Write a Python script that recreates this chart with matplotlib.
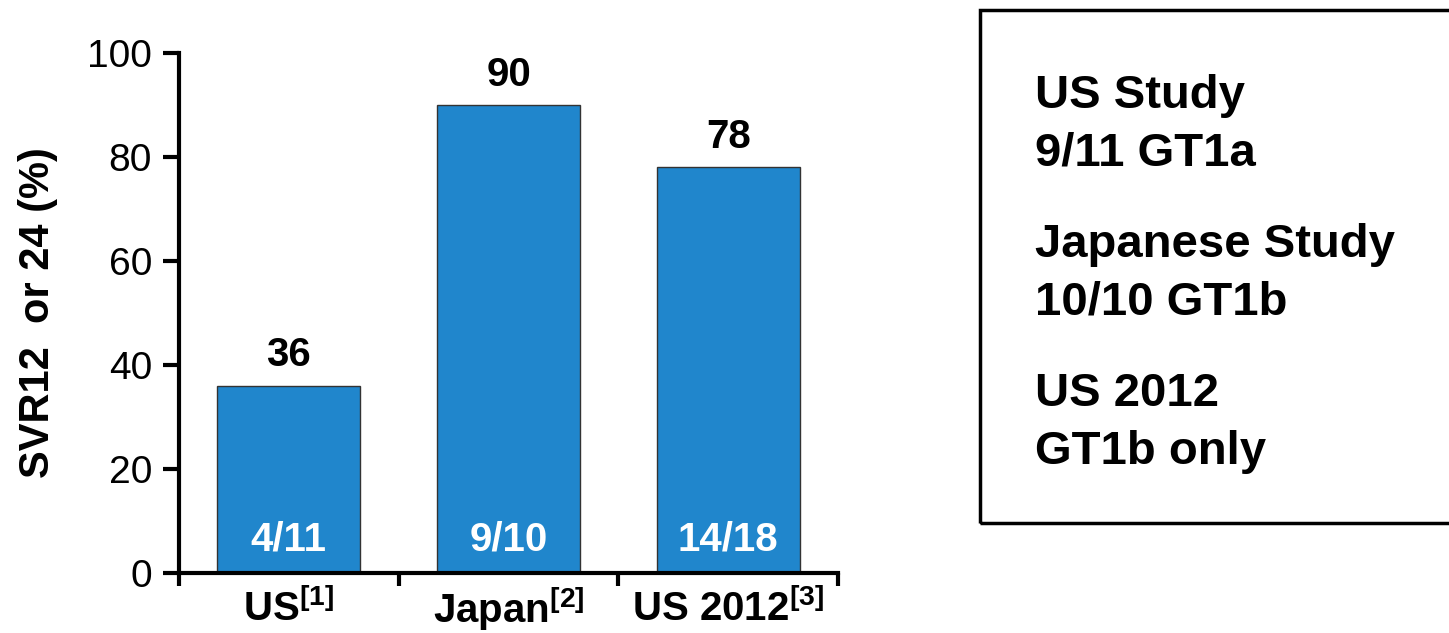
import matplotlib
matplotlib.use("Agg")
import matplotlib.pyplot as plt
from matplotlib.patches import Rectangle

plt.rcParams['font.family'] = ['Liberation Sans', 'DejaVu Sans']
plt.rcParams['mathtext.fontset'] = 'custom'
plt.rcParams['mathtext.rm'] = 'Liberation Sans'
plt.rcParams['mathtext.bf'] = 'Liberation Sans:bold'

# Data
categories = ["US", "Japan", "US 2012"]
refs = ["1", "2", "3"]
svr_pct = [36, 90, 78]
responders = ["4/11", "9/10", "14/18"]
yticks = [0, 20, 40, 60, 80, 100]
notes = [("US Study", "9/11 GT1a"),
         ("Japanese Study", "10/10 GT1b"),
         ("US 2012", "GT1b only")]

bar_color = "#2086cc"

fig = plt.figure(figsize=(14.49, 6.33), dpi=100)
W, H = 1449, 633
ax = fig.add_axes([179 / W, 1 - 573 / H, (838 - 179) / W, (573 - 53) / H])

x = list(range(len(categories)))
ax.bar(x, svr_pct, width=0.65, color=bar_color, edgecolor="#333333",
       linewidth=1.0, zorder=2)

ax.set_xlim(-0.5, len(categories) - 0.5)
ax.set_ylim(0, 100)

for xi, v, r in zip(x, svr_pct, responders):
    ax.text(xi, v + 2.2, str(v), ha="center", va="bottom",
            fontsize=29, fontweight="bold", color="black")
    ax.text(xi, 6.5, r, ha="center", va="center",
            fontsize=29, fontweight="bold", color="white")

# Spines
for s in ["top", "right"]:
    ax.spines[s].set_visible(False)
for s in ["left", "bottom"]:
    ax.spines[s].set_linewidth(3)

ax.set_yticks(yticks)
ax.set_yticklabels([str(t) for t in yticks], fontsize=28)
ax.tick_params(axis="y", direction="out", length=11.5, width=3, pad=8)

# Category separators as x ticks; category names centred below each bar
ax.set_xticks([i - 0.5 for i in range(len(categories) + 1)])
ax.set_xticklabels([])
ax.tick_params(axis="x", which="major", direction="out", length=9, width=3)
for xi, c, r in zip(x, categories, refs):
    ax.text(xi, -0.069, rf"{c}$^{{\mathbf{{[{r}]}}}}$",
            transform=ax.get_xaxis_transform(), ha="center", va="center",
            fontsize=29, fontweight="bold", clip_on=False)

ax.set_ylabel("SVR12  or 24 (%)", fontsize=30, fontweight="bold")
ax.yaxis.set_label_coords(-0.183, 0.5)

# Notes box
box = Rectangle((980 / W, 1 - 523 / H), (1500 - 980) / W, (523 - 10) / H,
                transform=fig.transFigure, fill=False, edgecolor="black",
                linewidth=2.5)
fig.patches.append(box)

y0 = 96
for title, detail in notes:
    fig.text(1035 / W, 1 - y0 / H, title, ha="left", va="center",
             fontsize=34, fontweight="bold")
    fig.text(1035 / W, 1 - (y0 + 58) / H, detail, ha="left", va="center",
             fontsize=34, fontweight="bold")
    y0 += 149

fig.savefig("out.png", dpi=100)
